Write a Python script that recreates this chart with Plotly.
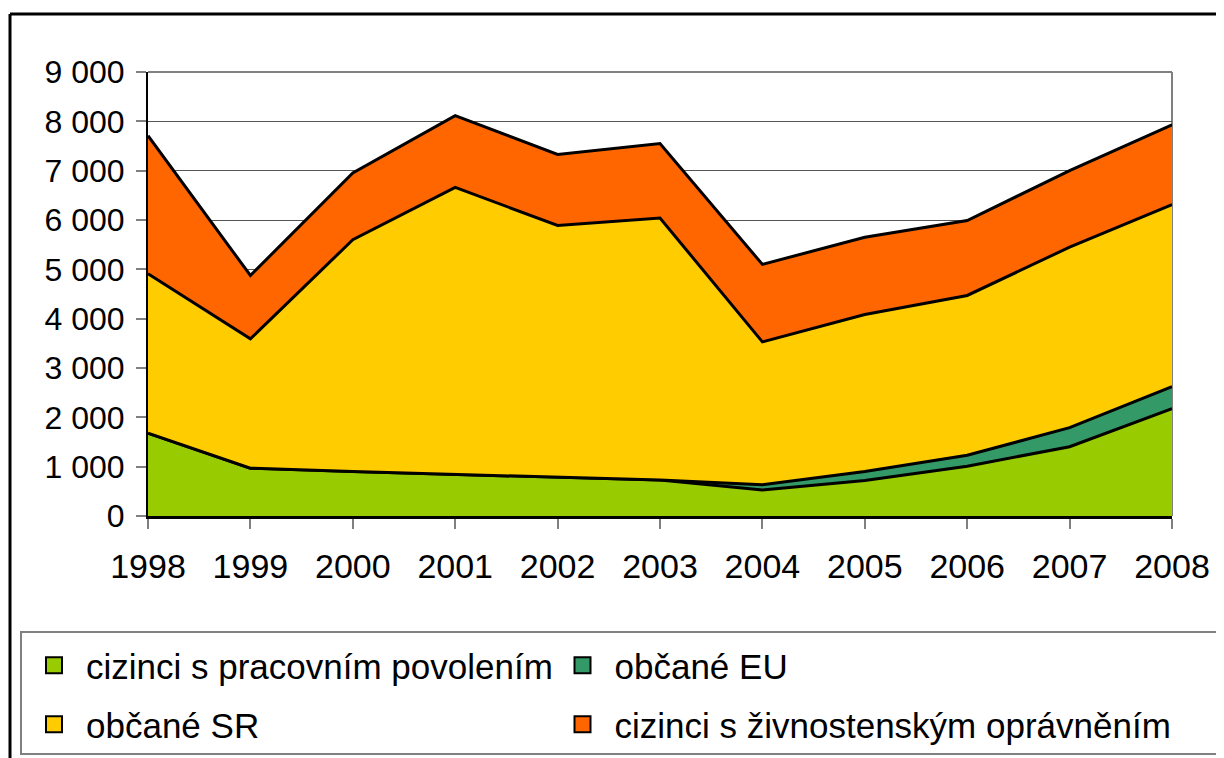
import plotly.graph_objects as go

years = [1998, 1999, 2000, 2001, 2002, 2003, 2004, 2005, 2006, 2007, 2008]
prac_povoleni = [1680, 970, 900, 845, 790, 730, 525, 720, 1010, 1405, 2175]
obcane_eu = [0, 0, 0, 0, 0, 0, 110, 180, 220, 385, 445]
obcane_sr = [3230, 2620, 4700, 5815, 5100, 5310, 2895, 3185, 3240, 3660, 3690]
zivnost = [2800, 1285, 1355, 1455, 1440, 1510, 1570, 1565, 1520, 1550, 1620]

names = ["cizinci s pracovním povolením", "občané EU", "občané SR",
         "cizinci s živnostenským oprávněním"]
colors = ["#99CC00", "#339966", "#FFCC00", "#FF6600"]
series = [prac_povoleni, obcane_eu, obcane_sr, zivnost]
legend_ids = ["legend", "legend2", "legend3", "legend4"]

# page body has an 8px margin: work in figure coords = image coords - 8
OFF = 8
W, H = 1224 - OFF, 758 - OFF
L, R, T, B = 148 - OFF, 1172 - OFF, 72 - OFF, 516 - OFF
pw, ph = R - L, B - T


def px(x):
    return (x - OFF - L) / pw


def py(y):
    return (B - (y - OFF)) / ph


fig = go.Figure()
for n, c, s in zip(names, colors, series):
    fig.add_trace(go.Scatter(
        x=years, y=s, name=n, stackgroup="one", mode="lines",
        line=dict(color="black", width=3), fillcolor=c,
        showlegend=False, hoverinfo="x+y+name"))
for n, c, lg in zip(names, colors, legend_ids):
    fig.add_trace(go.Scatter(
        x=[None], y=[None], name=n, mode="markers", legend=lg,
        marker=dict(symbol="square", size=16, color=c,
                    line=dict(color="black", width=2))))

shapes = [
    # legend box
    dict(type="rect", xref="paper", yref="paper",
         x0=px(21), x1=px(1220), y0=py(632), y1=py(754),
         line=dict(color="#808080", width=2), layer="below"),
    # outer border top and left
    dict(type="line", xref="paper", yref="paper",
         x0=px(10), x1=px(1230), y0=py(14), y1=py(14),
         line=dict(color="black", width=3)),
    dict(type="line", xref="paper", yref="paper",
         x0=px(10), x1=px(10), y0=py(14), y1=py(770),
         line=dict(color="black", width=3)),
    # plot area top/right border
    dict(type="line", xref="paper", yref="paper",
         x0=0, x1=1, y0=1, y1=1, line=dict(color="#808080", width=2)),
    dict(type="line", xref="paper", yref="paper",
         x0=1, x1=1, y0=0, y1=1, line=dict(color="#808080", width=2),
         layer="below"),
]

leg_common = dict(orientation="h", xref="paper", yref="paper",
                  xanchor="left", yanchor="top",
                  font=dict(size=35), itemsizing="trace", itemwidth=54,
                  traceorder="normal", bgcolor="rgba(0,0,0,0)",
                  borderwidth=0)

col_x = [22, 550.5]
row_y = [636, 695]

fig.update_layout(
    width=W, height=H,
    margin=dict(l=L, r=W - R, t=T, b=H - B, pad=0, autoexpand=False),
    paper_bgcolor="white", plot_bgcolor="white",
    separators=", ",
    font=dict(family="Liberation Sans, Arial, sans-serif", color="black"),
    showlegend=True,
    legend=dict(x=px(col_x[0]), y=py(row_y[0]), **leg_common),
    legend2=dict(x=px(col_x[1]), y=py(row_y[0]), **leg_common),
    legend3=dict(x=px(col_x[0]), y=py(row_y[1]), **leg_common),
    legend4=dict(x=px(col_x[1]), y=py(row_y[1]), **leg_common),
    shapes=shapes,
    xaxis=dict(range=[1998, 2008], tickmode="array", tickvals=years,
               ticktext=[str(y) for y in years],
               showgrid=False, zeroline=False,
               showline=True, linecolor="black", linewidth=2.5,
               ticks="outside", ticklen=10, tickcolor="#808080", tickwidth=2,
               tickfont=dict(size=34), ticklabelstandoff=8),
    yaxis=dict(range=[0, 9000], dtick=1000, tick0=0, tickformat=",d",
               showgrid=True, gridcolor="#555555", gridwidth=1,
               zeroline=False,
               showline=True, linecolor="black", linewidth=2,
               ticks="outside", ticklen=10, tickcolor="#808080", tickwidth=2,
               tickfont=dict(size=32), ticklabelstandoff=5),
)

fig.write_html("out.html")
